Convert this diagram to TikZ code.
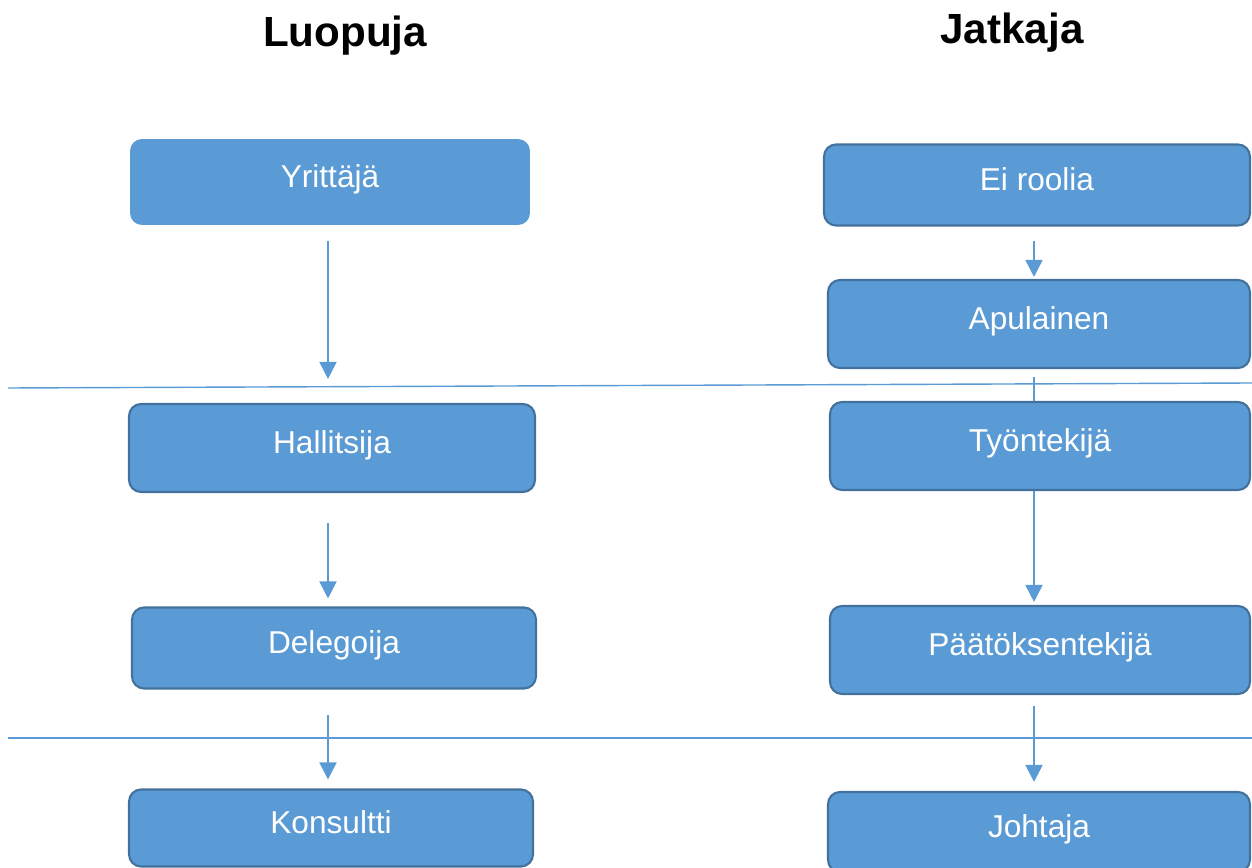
\documentclass[tikz,border=0pt]{standalone}
\usepackage{fontspec}
\setmainfont{Liberation Sans}
\usetikzlibrary{arrows.meta}
\definecolor{boxfill}{HTML}{5B9BD5}
\definecolor{boxline}{HTML}{41719C}
\begin{document}
	\begin{tikzpicture}[x=0.02cm, y=-0.02cm,
		role/.style={rectangle, rounded corners=0.24cm, fill=boxfill, draw=boxline, line width=1.2pt,
			text=white, font=\fontsize{18}{20}\selectfont, text height=0.46cm, text depth=0.24cm,
			inner sep=0pt},
		arr/.style={draw=boxfill, line width=1pt, -{Triangle[width=0.34cm,length=0.34cm]}},
		rule/.style={draw=boxfill, line width=0.8pt},
		title/.style={font=\fontsize{24}{28}\selectfont\bfseries}
		]
	\useasboundingbox (0,0) rectangle (1252,868);
	\node [title] (t1) at (345,36) {Luopuja};
	\node [title] (t2) at (1012,33) {Jatkaja};
	% luopuja
	\node [role, draw=none, minimum width=8cm, minimum height=1.72cm] (yr) at (330,182) {Yrittäjä};
	\node [role, minimum width=8.12cm, minimum height=1.76cm] (ha) at (332,448) {Hallitsija};
	\node [role, minimum width=8.08cm, minimum height=1.62cm] (de) at (334,648) {Delegoija};
	\node [role, minimum width=8.08cm, minimum height=1.54cm] (ko) at (331,828) {Konsultti};
	% jatkaja
	\node [role, minimum width=8.52cm, minimum height=1.62cm] (ei) at (1037,185) {Ei roolia};
	\node [role, minimum width=8.44cm, minimum height=1.76cm] (ap) at (1039,324) {Apulainen};
	\node [role, minimum width=8.4cm, minimum height=1.76cm] (ty) at (1040,446) {Työntekijä};
	\node [role, minimum width=8.4cm, minimum height=1.76cm] (pa) at (1040,650) {Päätöksentekijä};
	\node [role, minimum width=8.44cm, minimum height=1.6cm] (jo) at (1039,832) {Johtaja};
	% nuolet
	\draw [arr, shorten <=0.3cm, shorten >=0.48cm] ([xshift=-0.04cm]yr.south) -- ([xshift=-0.04cm]yr.south |- ha.north);
	\draw [arr, shorten <=0.6cm, shorten >=0.16cm] ([xshift=-0.08cm]ha.south) -- ([xshift=-0.08cm]ha.south |- de.north);
	\draw [arr, shorten <=0.5cm, shorten >=0.18cm] ([xshift=-0.12cm]de.south) -- ([xshift=-0.12cm]de.south |- ko.north);
	\draw [arr, shorten <=0.28cm, shorten >=0.04cm] ([xshift=-0.06cm]ei.south) -- ([xshift=-0.06cm]ei.south |- ap.north);
	\draw [rule, line width=1pt, shorten <=0.16cm] ([xshift=-0.1cm]ap.south) -- ([xshift=-0.1cm]ap.south |- ty.north);
	\draw [arr, shorten >=0.06cm] ([xshift=-0.12cm]ty.south) -- ([xshift=-0.12cm]ty.south |- pa.north);
	\draw [arr, shorten <=0.22cm, shorten >=0.18cm] ([xshift=-0.12cm]pa.south) -- ([xshift=-0.12cm]pa.south |- jo.north);
	% rajat
	\draw [rule] (8,388) -- (1252,383);
	\draw [rule] (8,738) -- (1252,738);
	\end{tikzpicture}
\end{document}
